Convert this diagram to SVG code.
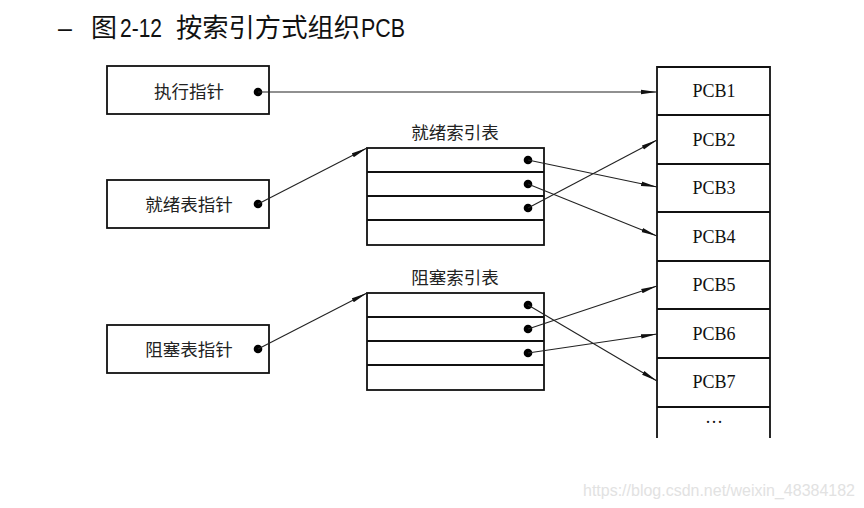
<svg xmlns="http://www.w3.org/2000/svg" width="864" height="508" viewBox="0 0 864 508">
<style>
.box{fill:#fff;stroke:#111;stroke-width:1.8}
.row{stroke:#111;stroke-width:1.8}
.cn{font-family:"Noto Sans CJK SC","Noto Sans",sans-serif;font-size:17.5px;fill:#222;text-anchor:middle}
.pcb{font-family:"Liberation Serif",serif;font-size:18px;fill:#111;text-anchor:middle}
.dot{fill:#000}
.conn{stroke:#222;stroke-width:1.1;fill:none;marker-end:url(#ah)}
</style>
<defs>
<marker id="ah" viewBox="0 0 16 6" refX="16" refY="3" markerWidth="16" markerHeight="6" markerUnits="userSpaceOnUse" orient="auto">
<path d="M0,0.8 L16,3 L0,5.2 Z" fill="#111"/>
</marker>
</defs>
<rect width="864" height="508" fill="#fff"/>
<g id="title" font-family="'Liberation Sans','Noto Sans CJK SC',sans-serif" font-size="25" fill="#111">
<text x="58" y="37">–</text>
<text y="37"><tspan x="91" font-size="26">图</tspan><tspan x="120" textLength="42" lengthAdjust="spacingAndGlyphs">2-12</tspan><tspan x="176" font-size="26" textLength="184" lengthAdjust="spacingAndGlyphs">按索引方式组织</tspan><tspan x="361" textLength="44" lengthAdjust="spacingAndGlyphs">PCB</tspan></text>
</g>
<g id="exec-ptr">
<rect class="box" x="107" y="66" width="162" height="48"/>
<text class="cn" x="189" y="98">执行指针</text>
<circle class="dot" cx="258" cy="92" r="4.3"/>
</g>
<g id="ready-ptr">
<rect class="box" x="107" y="180" width="162" height="48"/>
<text class="cn" x="189" y="211">就绪表指针</text>
<circle class="dot" cx="258" cy="204" r="4.3"/>
</g>
<g id="blocked-ptr">
<rect class="box" x="107" y="325" width="162" height="48"/>
<text class="cn" x="189" y="356">阻塞表指针</text>
<circle class="dot" cx="258" cy="349" r="4.3"/>
</g>
<g id="ready-index">
<text class="cn" x="455" y="139">就绪索引表</text>
<rect class="box" x="367" y="148" width="177" height="97"/>
<line class="row" x1="367" y1="172" x2="544" y2="172"/>
<line class="row" x1="367" y1="196" x2="544" y2="196"/>
<line class="row" x1="367" y1="220" x2="544" y2="220"/>
<circle class="dot" cx="528" cy="160" r="4.3"/>
<circle class="dot" cx="528" cy="184" r="4.3"/>
<circle class="dot" cx="528" cy="208" r="4.3"/>
</g>
<g id="blocked-index">
<text class="cn" x="455" y="284">阻塞索引表</text>
<rect class="box" x="367" y="293" width="177" height="97"/>
<line class="row" x1="367" y1="317" x2="544" y2="317"/>
<line class="row" x1="367" y1="341" x2="544" y2="341"/>
<line class="row" x1="367" y1="365" x2="544" y2="365"/>
<circle class="dot" cx="528" cy="305" r="4.3"/>
<circle class="dot" cx="528" cy="329" r="4.3"/>
<circle class="dot" cx="528" cy="353" r="4.3"/>
</g>
<g id="pcb-table">
<path d="M657,438 V67 H770 V438" fill="#fff" stroke="#111" stroke-width="1.8"/>
<line class="row" x1="657" y1="115" x2="770" y2="115"/>
<line class="row" x1="657" y1="164" x2="770" y2="164"/>
<line class="row" x1="657" y1="212" x2="770" y2="212"/>
<line class="row" x1="657" y1="261" x2="770" y2="261"/>
<line class="row" x1="657" y1="309" x2="770" y2="309"/>
<line class="row" x1="657" y1="358" x2="770" y2="358"/>
<line class="row" x1="657" y1="407" x2="770" y2="407"/>
<text class="pcb" x="714" y="97">PCB1</text>
<text class="pcb" x="714" y="146">PCB2</text>
<text class="pcb" x="714" y="194">PCB3</text>
<text class="pcb" x="714" y="243">PCB4</text>
<text class="pcb" x="714" y="291">PCB5</text>
<text class="pcb" x="714" y="340">PCB6</text>
<text class="pcb" x="714" y="388">PCB7</text>
<text class="pcb" x="714" y="428">···</text>
</g>
<g id="connectors">
<line class="conn" x1="258" y1="92" x2="657" y2="92"/>
<line class="conn" x1="258" y1="204" x2="367" y2="148"/>
<line class="conn" x1="258" y1="349" x2="367" y2="293"/>
<line class="conn" x1="528" y1="160" x2="657" y2="187"/>
<line class="conn" x1="528" y1="184" x2="657" y2="236"/>
<line class="conn" x1="528" y1="208" x2="657" y2="140"/>
<line class="conn" x1="528" y1="305" x2="657" y2="381"/>
<line class="conn" x1="528" y1="329" x2="657" y2="286"/>
<line class="conn" x1="528" y1="353" x2="657" y2="334"/>
</g>
<text x="583" y="496" font-family="'Liberation Sans',sans-serif" font-size="16" fill="#e2e2e2" textLength="272" lengthAdjust="spacingAndGlyphs">https://blog.csdn.net/weixin_48384182</text>
</svg>
